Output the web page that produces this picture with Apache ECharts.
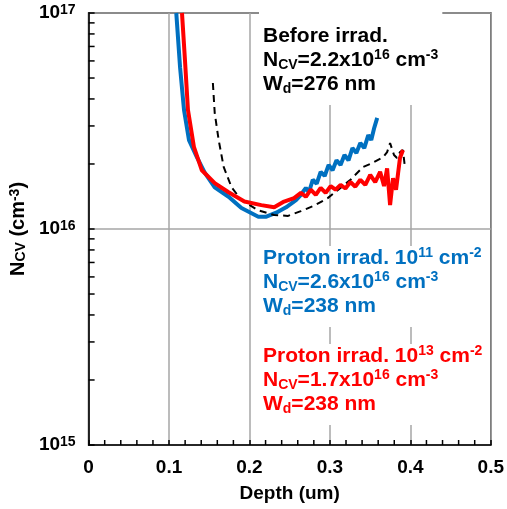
<!DOCTYPE html>
<html>
<head>
<meta charset="utf-8">
<title>N_CV vs depth</title>
<script src="https://cdn.jsdelivr.net/npm/echarts@6/dist/echarts.min.js"></script>
<style>
  html, body { margin: 0; padding: 0; background: #fff; }
  #chart { width: 507px; height: 509px; }
</style>
</head>
<body>
<div id="chart"></div>
<script>
// depth (um) / N_CV (cm^-3)
var blueX = [0.109, 0.1137, 0.1186, 0.1248, 0.1346, 0.1445, 0.1568, 0.174, 0.190, 0.211, 0.221, 0.2332, 0.2455, 0.2578, 0.2639, 0.2701, 0.2739, 0.2787, 0.2836, 0.2885, 0.2935, 0.2984, 0.3033, 0.3082, 0.3132, 0.3181, 0.3231, 0.3280, 0.3329, 0.3378, 0.3427, 0.3477, 0.3514, 0.3551, 0.3588];
var blueY = [1.0e17, 5.6e16, 3.56e16, 2.58e16, 2.15e16, 1.82e16, 1.56e16, 1.41e16, 1.25e16, 1.14e16, 1.14e16, 1.19e16, 1.26e16, 1.36e16, 1.44e16, 1.55e16, 1.48e16, 1.69e16, 1.62e16, 1.84e16, 1.76e16, 1.98e16, 1.87e16, 2.08e16, 1.98e16, 2.20e16, 2.08e16, 2.37e16, 2.25e16, 2.50e16, 2.37e16, 2.72e16, 2.58e16, 2.94e16, 3.27e16];

var redX = [0.1161, 0.1198, 0.1235, 0.1309, 0.1408, 0.1568, 0.1740, 0.1937, 0.2147, 0.2307, 0.2430, 0.2554, 0.2639, 0.2701, 0.2762, 0.2824, 0.2885, 0.2947, 0.3009, 0.3070, 0.3132, 0.3193, 0.3255, 0.3316, 0.3378, 0.3440, 0.3501, 0.3563, 0.3624, 0.3673, 0.3711, 0.3748, 0.3785, 0.3822, 0.3871, 0.3908];
var redY = [1.0e17, 6.05e16, 3.56e16, 2.40e16, 1.87e16, 1.63e16, 1.48e16, 1.34e16, 1.29e16, 1.26e16, 1.34e16, 1.39e16, 1.47e16, 1.41e16, 1.52e16, 1.44e16, 1.55e16, 1.47e16, 1.58e16, 1.52e16, 1.60e16, 1.54e16, 1.65e16, 1.57e16, 1.69e16, 1.60e16, 1.78e16, 1.65e16, 1.84e16, 1.58e16, 1.91e16, 1.29e16, 1.72e16, 1.52e16, 2.13e16, 2.32e16];

var blackX = [0.1545, 0.1568, 0.1617, 0.1679, 0.1777, 0.1900, 0.2110, 0.2307, 0.2480, 0.2639, 0.2799, 0.2972, 0.3132, 0.3255, 0.3341, 0.3415, 0.3501, 0.3587, 0.3661, 0.3711, 0.3748, 0.3797, 0.3834, 0.3871, 0.3908, 0.3932];
var blackY = [4.74e16, 3.44e16, 2.58e16, 1.94e16, 1.56e16, 1.36e16, 1.22e16, 1.16e16, 1.15e16, 1.21e16, 1.28e16, 1.39e16, 1.55e16, 1.69e16, 1.82e16, 1.94e16, 2.00e16, 2.08e16, 2.15e16, 2.27e16, 2.50e16, 2.20e16, 2.13e16, 2.27e16, 2.32e16, 1.94e16];

var xMinorTicks = [0.02, 0.04, 0.06, 0.08, 0.12, 0.14, 0.16, 0.18, 0.22, 0.24, 0.26, 0.28, 0.32, 0.34, 0.36, 0.38, 0.42, 0.44, 0.46, 0.48];
var yMinorTicks = [2e15, 3e15, 4e15, 5e15, 6e15, 7e15, 8e15, 9e15, 2e16, 3e16, 4e16, 5e16, 6e16, 7e16, 8e16, 9e16];

var notes = [
  'Before irrad.\nN{sub|CV}=2.2x10{sup|16} cm{sup|-3}\nW{sub|d}=276 nm',
  'Proton irrad. 10{sup|11} cm{sup|-2}\nN{sub|CV}=2.6x10{sup|16} cm{sup|-3}\nW{sub|d}=238 nm',
  'Proton irrad. 10{sup|13} cm{sup|-2}\nN{sub|CV}=1.7x10{sup|16} cm{sup|-3}\nW{sub|d}=238 nm'
];
var noteColors = ['#000000', '#0070c0', '#ff0000'];

function pairs(xs, ys) {
  return xs.map(function (x, i) { return [x, ys[i]]; });
}

var FONT = 'Arial, "Liberation Sans", sans-serif';

function noteText(i, x, y, pad) {
  return {
    type: 'text',
    x: x,
    y: y,
    z: 100,
    style: {
      text: notes[i],
      fill: noteColors[i],
      font: 'bold 21px ' + FONT,
      lineHeight: 24,
      backgroundColor: '#fff',
      padding: pad,
      rich: {
        sup: { fontSize: 14, fontWeight: 'bold', fontFamily: FONT, fill: noteColors[i], verticalAlign: 'top', lineHeight: 18 },
        sub: { fontSize: 14, fontWeight: 'bold', fontFamily: FONT, fill: noteColors[i], verticalAlign: 'bottom', lineHeight: 12 }
      }
    }
  };
}

// short inward ticks, placed through the axes' own scales
function tickSeries(values, isX) {
  return {
    type: 'custom',
    silent: true,
    z: 5,
    clip: false,
    data: values.map(function (v) { return isX ? [v, 1e15] : [0, v]; }),
    renderItem: function (params, api) {
      var p = api.coord([api.value(0), api.value(1)]);
      var shape = isX
        ? { x1: p[0], y1: p[1], x2: p[0], y2: p[1] - 5 }
        : { x1: p[0], y1: p[1], x2: p[0] + 6, y2: p[1] };
      return { type: 'line', shape: shape, style: { stroke: '#000', lineWidth: 1.5 } };
    }
  };
}

var chart = echarts.init(document.getElementById('chart'));
var option = {
  animation: false,
  backgroundColor: '#fff',
  grid: { left: 86, right: 16, top: 13, bottom: 64, show: true, borderColor: '#000', borderWidth: 1.5 },
  xAxis: {
    type: 'value',
    min: 0, max: 0.5, interval: 0.1,
    name: 'Depth (um)',
    nameLocation: 'middle',
    nameGap: 39,
    nameTextStyle: { color: '#000', fontSize: 19, fontWeight: 'bold', fontFamily: FONT },
    axisLine: { lineStyle: { color: '#000', width: 1.5 } },
    axisTick: { inside: true, length: 5, lineStyle: { color: '#000', width: 1.5 } },
    splitLine: { show: true, lineStyle: { color: '#a6a6a6', width: 1.5 } },
    axisLabel: {
      margin: 13, color: '#000', fontSize: 19, fontWeight: 'bold', fontFamily: FONT,
      formatter: function (v) { return v === 0 ? '0' : v.toFixed(1); }
    }
  },
  yAxis: {
    type: 'log',
    logBase: 10,
    min: 1e15, max: 1e17,
    name: 'N{sub|CV} (cm{sup|-3})',
    nameLocation: 'middle',
    nameGap: 57,
    nameTextStyle: {
      color: '#000', fontSize: 20, fontWeight: 'bold', fontFamily: FONT,
      rich: {
        sup: { fontSize: 14, fontWeight: 'bold', fontFamily: FONT, color: '#000', verticalAlign: 'top', lineHeight: 18 },
        sub: { fontSize: 14, fontWeight: 'bold', fontFamily: FONT, color: '#000', verticalAlign: 'bottom', lineHeight: 12 }
      }
    },
    axisLine: { lineStyle: { color: '#000', width: 1.5 } },
    axisTick: { inside: true, length: 6, lineStyle: { color: '#000', width: 1.5 } },
    splitLine: { show: true, lineStyle: { color: '#a6a6a6', width: 1.5 } },
    axisLabel: {
      margin: 13, color: '#000', fontSize: 19, fontWeight: 'bold', fontFamily: FONT,
      formatter: function (v) { return '10{sup|' + Math.round(Math.log10(v)) + '}'; },
      rich: { sup: { fontSize: 14, fontWeight: 'bold', fontFamily: FONT, color: '#000', verticalAlign: 'top', lineHeight: 16 } }
    }
  },
  series: [
    tickSeries(xMinorTicks, true),
    tickSeries(yMinorTicks, false),
    {
      name: 'Proton 1e11', type: 'line', data: pairs(blueX, blueY),
      showSymbol: false, lineStyle: { color: '#0070c0', width: 4 }, z: 3
    },
    {
      name: 'Before', type: 'line', data: pairs(blackX, blackY),
      showSymbol: false, lineStyle: { color: '#000', width: 2, type: [7, 5] }, z: 4
    },
    {
      name: 'Proton 1e13', type: 'line', data: pairs(redX, redY),
      showSymbol: false, lineStyle: { color: '#ff0000', width: 4 }, z: 5
    }
  ],
  graphic: [
    noteText(0, 259, 12, [12, 4, 9, 4]),
    noteText(1, 259, 246, [0, 4, 9, 4]),
    noteText(2, 259, 344, [0, 4, 9, 4])
  ]
};
chart.setOption(option);
window.addEventListener('resize', chart.resize);
</script>
</body>
</html>
